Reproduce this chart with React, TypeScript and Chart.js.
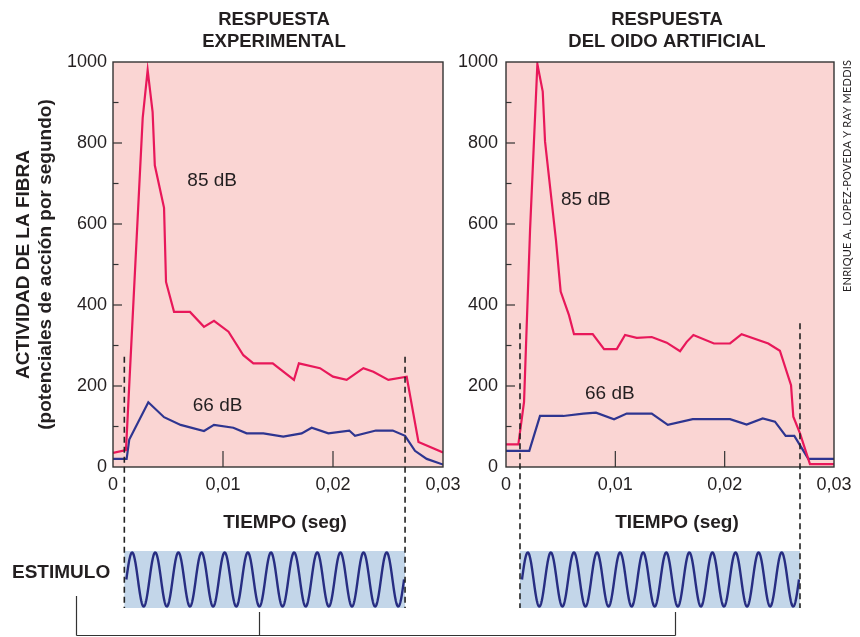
import React, { useEffect, useRef } from 'react';
import { Chart, registerables } from 'chart.js';

Chart.register(...registerables);

// ---------------- data (time in s, activity in spikes/s) ----------------
const expTime85 = [0, 0.00118, 0.0027, 0.00315, 0.0036, 0.0038, 0.00464, 0.00482, 0.00555, 0.007, 0.00827, 0.00918, 0.0105, 0.01185, 0.01276, 0.01452, 0.01645, 0.0169, 0.01882, 0.02, 0.02124, 0.02276, 0.02367, 0.02503, 0.0267, 0.02777, 0.03];
const expRate85 = [35, 42, 862, 980, 877, 745, 640, 457, 383, 383, 346, 361, 334, 276, 256, 256, 215, 256, 244, 223, 215, 244, 235, 215, 223, 62, 36];

const expTime66 = [0, 0.00124, 0.00148, 0.00321, 0.00464, 0.00615, 0.00827, 0.00918, 0.01094, 0.01215, 0.01367, 0.01548, 0.01715, 0.01806, 0.01958, 0.02148, 0.022, 0.0239, 0.02543, 0.02655, 0.02745, 0.02852, 0.03];
const expRate66 = [20, 20, 68, 160, 123, 104, 89, 104, 97, 83, 83, 75, 83, 97, 83, 90, 77, 90, 90, 77, 40, 20, 6];

const artTime85 = [0, 0.00113, 0.00165, 0.0022, 0.00287, 0.00336, 0.00357, 0.00457, 0.005, 0.00576, 0.00622, 0.00793, 0.00897, 0.01013, 0.01089, 0.01196, 0.01333, 0.0147, 0.01592, 0.01653, 0.01714, 0.01902, 0.02049, 0.02155, 0.02399, 0.02505, 0.02607, 0.02628, 0.02689, 0.0278, 0.03];
const artRate85 = [56, 56, 161, 585, 995, 927, 804, 560, 433, 375, 328, 328, 291, 291, 326, 319, 321, 307, 286, 309, 326, 305, 305, 328, 305, 287, 202, 124, 83, 7, 7];

const artTime66 = [0, 0.00213, 0.00311, 0.00524, 0.00707, 0.00823, 0.00988, 0.01104, 0.01333, 0.0148, 0.01708, 0.02049, 0.02201, 0.02348, 0.0246, 0.02558, 0.02637, 0.02765, 0.03];
const artRate66 = [40, 40, 126, 126, 132, 134, 118, 132, 132, 104, 118, 118, 105, 120, 112, 77, 77, 20, 20];

// stimulus on / off times and dashed-marker top (activity units)
const expStimulus = [0.00103, 0.02655];
const artStimulus = [0.00128, 0.02689];
const expMarkerTop = 272;
const artMarkerTop = 355;
const stimulusCycles = 12;

// label anchors [time, activity]
const expLabel85 = [0.00676, 706];
const expLabel66 = [0.00725, 151];
const artLabel85 = [0.00503, 660];
const artLabel66 = [0.00723, 180];

const titleExp = ['RESPUESTA', 'EXPERIMENTAL'];
const titleArt = ['RESPUESTA', 'DEL OIDO ARTIFICIAL'];
const yTitle = ['ACTIVIDAD DE LA FIBRA', '(potenciales de acción por segundo)'];
const xTitle = 'TIEMPO (seg)';
const stimulusLabel = 'ESTIMULO';
const creditText = 'ENRIQUE A. LOPEZ-POVEDA Y RAY MEDDIS';
const label85 = '85 dB';
const label66 = '66 dB';

// ---------------- styles ----------------
const INK = '#231f20';
const PINK = '#fad5d3';
const RED = '#e8185a';
const BLUE = '#2e3590';
const STIM_FILL = '#c3d6e9';
const STIM_WAVE = '#272d82';
const FONT = "'Liberation Sans', Arial, Helvetica, sans-serif";
const STIM_TOP = 551;
const STIM_BOTTOM = 608;

Chart.defaults.font.family = FONT;
Chart.defaults.color = INK;

const fmtTime = (v: number) => (v === 0 ? '0' : v.toFixed(2).replace('.', ','));

type PanelCfg = {
  title: string[];
  titleX: number;
  tiempoX: number;
  padLeft: number;
  padRight: number;
  yWidth: number;
  yPad: number;
  showYTitle: boolean;
  t85: number[]; r85: number[]; t66: number[]; r66: number[];
  stim: number[];
  markerTop: number;
  lab85: number[]; lab66: number[];
  extra?: (ctx: CanvasRenderingContext2D) => void;
};

function line(ctx: CanvasRenderingContext2D, x1: number, y1: number, x2: number, y2: number) {
  ctx.beginPath();
  ctx.moveTo(x1, y1);
  ctx.lineTo(x2, y2);
  ctx.stroke();
}

function decorPlugin(cfg: PanelCfg) {
  return {
    id: 'decor',
    beforeDatasetsDraw(chart: any) {
      const { ctx, chartArea: a } = chart;
      ctx.save();
      ctx.fillStyle = PINK;
      ctx.fillRect(a.left, a.top, a.right - a.left, a.bottom - a.top);
      ctx.restore();
    },
    afterDraw(chart: any) {
      const { ctx, chartArea: a } = chart;
      const xs = chart.scales.x;
      const ys = chart.scales.y;
      ctx.save();
      // frame
      ctx.strokeStyle = '#333';
      ctx.lineWidth = 1.4;
      ctx.strokeRect(a.left, a.top, a.right - a.left, a.bottom - a.top);
      // inner y ticks
      ctx.lineWidth = 1.2;
      for (let v = 100; v < 1000; v += 100) {
        const py = ys.getPixelForValue(v);
        const len = v % 200 === 0 ? 9 : 5.5;
        line(ctx, a.left, py, a.left + len, py);
      }
      // inner x ticks
      xs.ticks.forEach((t: any) => {
        if (t.value > 0.0001 && t.value < 0.0299) {
          const px = xs.getPixelForValue(t.value);
          line(ctx, px, a.bottom, px, a.bottom - 16);
        }
      });
      // stimulus box
      const x1 = xs.getPixelForValue(cfg.stim[0]);
      const x2 = xs.getPixelForValue(cfg.stim[1]);
      ctx.fillStyle = STIM_FILL;
      ctx.fillRect(x1, STIM_TOP, x2 - x1, STIM_BOTTOM - STIM_TOP);
      const mid = (STIM_TOP + STIM_BOTTOM) / 2;
      const amp = (STIM_BOTTOM - STIM_TOP) / 2 - 1.5;
      ctx.strokeStyle = STIM_WAVE;
      ctx.lineWidth = 2.4;
      ctx.beginPath();
      const n = 800;
      for (let i = 0; i <= n; i++) {
        const px = x1 + 2 + ((x2 - x1 - 3) * i) / n;
        const py = mid - amp * Math.sin((2 * Math.PI * stimulusCycles * i) / n);
        if (i === 0) ctx.moveTo(px, py);
        else ctx.lineTo(px, py);
      }
      ctx.stroke();
      // dashed stimulus markers
      ctx.strokeStyle = '#222';
      ctx.lineWidth = 1.6;
      ctx.setLineDash([6, 4]);
      const top = ys.getPixelForValue(cfg.markerTop);
      [x1, x2].forEach((px) => line(ctx, px, top, px, STIM_BOTTOM));
      ctx.setLineDash([]);
      // curve labels
      ctx.fillStyle = INK;
      ctx.font = `19px ${FONT}`;
      ctx.textAlign = 'left';
      ctx.textBaseline = 'middle';
      ctx.fillText(label85, xs.getPixelForValue(cfg.lab85[0]), ys.getPixelForValue(cfg.lab85[1]));
      ctx.fillText(label66, xs.getPixelForValue(cfg.lab66[0]), ys.getPixelForValue(cfg.lab66[1]));
      // panel title
      ctx.font = `bold 18.5px ${FONT}`;
      ctx.textAlign = 'center';
      cfg.title.forEach((t, i) => ctx.fillText(t, cfg.titleX, 19.5 + i * 22));
      // x title
      ctx.font = `bold 19px ${FONT}`;
      ctx.fillText(xTitle, cfg.tiempoX, 523);
      if (cfg.extra) cfg.extra(ctx);
      ctx.restore();
    },
  };
}

function leftExtra(ctx: CanvasRenderingContext2D) {
  ctx.fillStyle = INK;
  ctx.font = `bold 19px ${FONT}`;
  ctx.textAlign = 'left';
  ctx.textBaseline = 'middle';
  ctx.fillText(stimulusLabel, 12, 573);
  ctx.strokeStyle = '#333';
  ctx.lineWidth = 1.2;
  line(ctx, 76.5, 596, 76.5, 635.5);
  line(ctx, 76.5, 635.5, 675.5, 635.5);
  line(ctx, 259.5, 612, 259.5, 635.5);
  line(ctx, 675.5, 612, 675.5, 635.5);
}

function rightExtra(ctx: CanvasRenderingContext2D) {
  ctx.save();
  ctx.translate(847, 176);
  ctx.rotate(-Math.PI / 2);
  ctx.fillStyle = INK;
  ctx.font = `11px Lato, 'Open Sans', sans-serif`;
  ctx.textAlign = 'left';
  ctx.textBaseline = 'middle';
  const target = 232;
  const plain = ctx.measureText(creditText).width;
  const ls = (target - plain) / (creditText.length - 1);
  (ctx as any).letterSpacing = `${ls}px`;
  ctx.fillText(creditText, -target / 2, 0);
  ctx.restore();
}

function buildChart(canvas: HTMLCanvasElement, cfg: PanelCfg) {
  const pts = (t: number[], r: number[]) => t.map((x, i) => ({ x, y: r[i] }));
  return new Chart(canvas, {
    type: 'scatter',
    data: {
      datasets: [
        { data: pts(cfg.t85, cfg.r85), showLine: true, borderColor: RED, borderWidth: 2.2, pointRadius: 0, tension: 0 },
        { data: pts(cfg.t66, cfg.r66), showLine: true, borderColor: BLUE, borderWidth: 2.2, pointRadius: 0, tension: 0 },
      ],
    },
    options: {
      responsive: false,
      animation: false,
      layout: { padding: { left: cfg.padLeft, right: cfg.padRight, top: 62, bottom: 0 } },
      plugins: { legend: { display: false }, tooltip: { enabled: false }, title: { display: false } },
      scales: {
        x: {
          type: 'linear',
          min: 0,
          max: 0.03,
          afterFit: (s: any) => { s.height = 170; },
          grid: { display: false, drawTicks: false },
          border: { display: false },
          ticks: { stepSize: 0.01, padding: 7.7, font: { size: 18 }, color: INK, callback: (v: any) => fmtTime(Number(v)) },
        },
        y: {
          min: 0,
          max: 1000,
          afterFit: (s: any) => { s.width = cfg.yWidth; },
          grid: { display: false, drawTicks: false },
          border: { display: false },
          ticks: { stepSize: 200, padding: cfg.yPad, font: { size: 18 }, color: INK, callback: (v: any) => String(Math.round(Number(v))) },
          title: {
            display: cfg.showYTitle,
            text: yTitle,
            color: INK,
            font: { size: 19, weight: 'bold', lineHeight: 22 / 19 },
            padding: { top: 12.5, bottom: 0 },
          },
        },
      },
    } as any,
    plugins: [decorPlugin(cfg)],
  });
}

export default function App() {
  const leftRef = useRef<HTMLCanvasElement>(null);
  const rightRef = useRef<HTMLCanvasElement>(null);

  useEffect(() => {
    document.body.style.margin = '0';
    const left = buildChart(leftRef.current!, {
      title: titleExp, titleX: 274, tiempoX: 285,
      padLeft: 0, padRight: 417, yWidth: 113, yPad: 6, showYTitle: true,
      t85: expTime85, r85: expRate85, t66: expTime66, r66: expRate66,
      stim: expStimulus, markerTop: expMarkerTop,
      lab85: expLabel85, lab66: expLabel66,
      extra: leftExtra,
    });
    const right = buildChart(rightRef.current!, {
      title: titleArt, titleX: 667, tiempoX: 677,
      padLeft: 446, padRight: 26, yWidth: 60, yPad: 8, showYTitle: false,
      t85: artTime85, r85: artRate85, t66: artTime66, r66: artRate66,
      stim: artStimulus, markerTop: artMarkerTop,
      lab85: artLabel85, lab66: artLabel66,
      extra: rightExtra,
    });
    return () => { left.destroy(); right.destroy(); };
  }, []);

  return (
    <div style={{ position: 'relative', width: 860, height: 637, background: '#fff' }}>
      <canvas ref={leftRef} width={860} height={637} style={{ position: 'absolute', left: 0, top: 0 }} />
      <canvas ref={rightRef} width={860} height={637} style={{ position: 'absolute', left: 0, top: 0 }} />
    </div>
  );
}
